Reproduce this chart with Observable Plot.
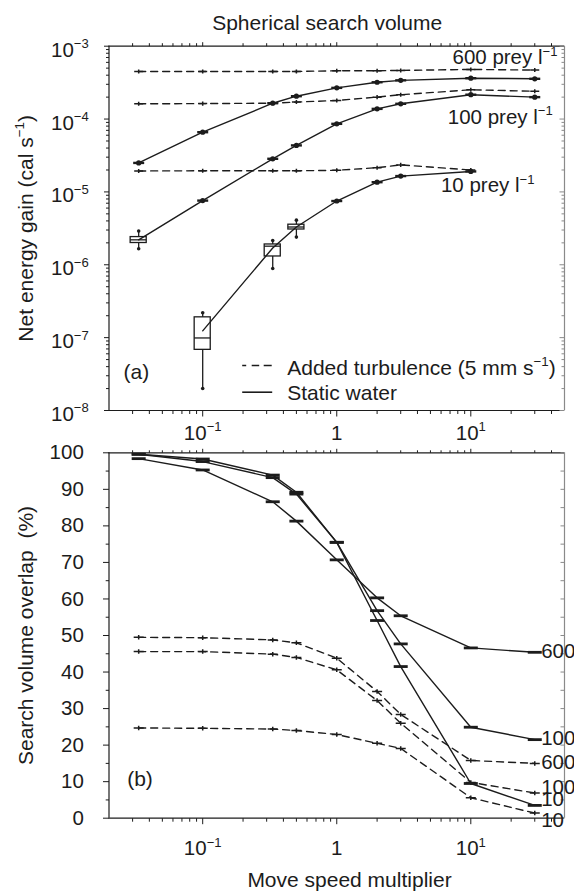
<!DOCTYPE html>
<html><head><meta charset="utf-8">
<script src="https://cdn.jsdelivr.net/npm/d3@7"></script>
<script src="https://cdn.jsdelivr.net/npm/@observablehq/plot@0.6"></script>
<style>
html,body{margin:0;padding:0;background:#fff;}
#chart{width:574px;height:891px;position:relative;overflow:hidden;background:#fff;}
#chart svg{display:block;overflow:visible;}
</style></head><body><div id="chart"></div>
<script>
// ---------- data ----------
const speeds = [0.0333, 0.1, 0.333, 0.5, 1, 2, 3, 10, 30];

// Panel (a): net energy gain (cal s^-1)
const gain600Static = [2.5e-5, 6.6e-5, 1.65e-4, 2.06e-4, 2.68e-4, 3.2e-4, 3.4e-4, 3.64e-4, 3.57e-4];
const gain600Turb   = [4.5e-4, 4.5e-4, 4.5e-4, 4.5e-4, 4.6e-4, 4.6e-4, 4.65e-4, 4.8e-4, 4.7e-4];
const gain100Static = [2.2e-6, 7.6e-6, 2.85e-5, 4.35e-5, 8.6e-5, 1.38e-4, 1.62e-4, 2.16e-4, 2.0e-4];
const gain100Turb   = [1.62e-4, 1.63e-4, 1.65e-4, 1.71e-4, 1.8e-4, 2.0e-4, 2.16e-4, 2.52e-4, 2.41e-4];
const gain10Static  = [null, 1.24e-7, 1.7e-6, 3.3e-6, 7.5e-6, 1.36e-5, 1.65e-5, 1.91e-5, null];
const gain10Turb    = [1.94e-5, 1.95e-5, 1.95e-5, 1.95e-5, 1.98e-5, 2.15e-5, 2.35e-5, 2.0e-5, null];

// box plots visible in panel (a)
const boxSeries = ["100 static", "10 static", "10 static", "10 static"];
const boxSpeed  = [0.0333, 0.1, 0.333, 0.5];
const boxLow    = [1.66e-6, 2.0e-8, 8.9e-7, 2.4e-6];
const boxQ1     = [1.99e-6, 6.8e-8, 1.3e-6, 3.05e-6];
const boxMedian = [2.2e-6, 9.9e-8, 1.8e-6, 3.3e-6];
const boxQ3     = [2.4e-6, 1.9e-7, 1.9e-6, 3.55e-6];
const boxHigh   = [2.9e-6, 2.2e-7, 2.15e-6, 4.1e-6];

// Panel (b): search volume overlap (%)
const overlap600Static = [98.4, 95.3, 86.6, 81.3, 70.7, 60.3, 55.4, 46.6, 45.4];
const overlap100Static = [99.6, 97.6, 93.2, 88.7, 75.5, 56.8, 47.7, 24.9, 21.5];
const overlap10Static  = [99.6, 98.3, 93.9, 89.2, 75.5, 54.1, 41.5, 9.5, 3.5];
const overlap600Turb   = [49.5, 49.4, 48.8, 48.0, 43.8, 34.7, 28.4, 15.8, 15.0];
const overlap100Turb   = [45.6, 45.6, 44.9, 44.0, 40.6, 32.2, 26.0, 9.8, 6.9];
const overlap10Turb    = [24.7, 24.6, 24.4, 24.0, 22.9, 20.5, 19.1, 5.6, 1.4];

// axes
const speedDomain = [0.02, 50];
const gainDomain = [1e-8, 1e-3];
const overlapDomain = [0, 100];
const speedTicks = [0.1, 1, 10];
const speedTickLabels = ["10^{−1}", "1", "10^{1}"];
const gainTicks = [1e-8, 1e-7, 1e-6, 1e-5, 1e-4, 1e-3];
const gainTickLabels = ["10^{−8}", "10^{−7}", "10^{−6}", "10^{−5}", "10^{−4}", "10^{−3}"];
const overlapTicks = [0, 10, 20, 30, 40, 50, 60, 70, 80, 90, 100];
const overlapMinor = [5, 15, 25, 35, 45, 55, 65, 75, 85, 95];

// text
const titleA = "Spherical search volume";
const yLabelA = "Net energy gain (cal s^{−1})";
const yLabelB = "Search volume overlap\u00a0 (%)";
const xLabel = "Move speed multiplier";
const legendTurb = "Added turbulence (5 mm s^{−1})";
const legendStatic = "Static water";

// ---------- helpers ----------
const minorSpeed = [];
for (const d of [0.01, 0.1, 1, 10]) for (let k = 2; k <= 9; k++) { const v = d * k; if (v > speedDomain[0] * 1.001 && v < speedDomain[1] * 0.999) minorSpeed.push(v); }
const minorGain = [];
for (const d of [1e-8, 1e-7, 1e-6, 1e-5, 1e-4]) for (let k = 2; k <= 9; k++) minorGain.push(d * k);

function rows(name, ys) { return speeds.map((x, i) => ({series: name, x, y: ys[i]})).filter(d => d.y != null); }
const staticA = [...rows("600 static", gain600Static), ...rows("100 static", gain100Static), ...rows("10 static", gain10Static)];
const turbA = [...rows("600 turb", gain600Turb), ...rows("100 turb", gain100Turb), ...rows("10 turb", gain10Turb)];
const boxes = boxSpeed.map((x, i) => ({series: boxSeries[i], x, lo: boxLow[i], q1: boxQ1[i], med: boxMedian[i], q3: boxQ3[i], hi: boxHigh[i]}));
const boxEnds = boxes.flatMap(b => [{x: b.x, y: b.lo}, {x: b.x, y: b.hi}]);
const hasBox = d => boxes.some(b => b.series === d.series && b.x === d.x);
const staticAMarks = staticA.filter(d => !hasBox(d));
const staticB = [...rows("600 static", overlap600Static), ...rows("100 static", overlap100Static), ...rows("10 static", overlap10Static)];
const turbB = [...rows("600 turb", overlap600Turb), ...rows("100 turb", overlap100Turb), ...rows("10 turb", overlap10Turb)];

const F = "'Liberation Sans', Arial, Helvetica, sans-serif";
const INK = "#1c1c1c";
const GREY = "#8a8a8a";
const BOXF = 1.148;
const sym = {
  hbar: {draw(c, s) { const r = Math.sqrt(s / Math.PI); c.moveTo(-r, 0); c.lineTo(r, 0); }},
  plus: {draw(c, s) { const r = Math.sqrt(s / Math.PI); c.moveTo(-r, 0); c.lineTo(r, 0); c.moveTo(0, -r * 0.45); c.lineTo(0, r * 0.45); }},
  left: {draw(c, s) { const r = Math.sqrt(s / Math.PI); c.moveTo(0, 0); c.lineTo(-r, 0); }},
  down: {draw(c, s) { const r = Math.sqrt(s / Math.PI); c.moveTo(0, 0); c.lineTo(0, r); }},
  up:   {draw(c, s) { const r = Math.sqrt(s / Math.PI); c.moveTo(0, 0); c.lineTo(0, -r); }}
};
const tickX = (vals, anchor, symbol, len, color = INK) => Plot.dot(vals, {x: d => d, frameAnchor: anchor, symbol, r: len, stroke: color, fill: "none", strokeWidth: 1});
const tickY = (vals, anchor, symbol, len, color = INK) => Plot.dot(vals, {y: d => d, frameAnchor: anchor, symbol, r: len, stroke: color, fill: "none", strokeWidth: 1});
const style = {fontFamily: F, fontSize: "20.5px", color: INK, background: "white", overflow: "visible"};

// ---------- panel (a) ----------
const plotA = Plot.plot({
  width: 574, height: 440,
  marginTop: 45.7, marginBottom: 30, marginLeft: 108.5, marginRight: 10,
  x: {type: "log", domain: speedDomain, axis: null},
  y: {type: "log", domain: gainDomain, axis: null},
  style,
  marks: [
    // frame
    Plot.ruleX([speedDomain[1]], {stroke: GREY, strokeWidth: 1.2}),
    Plot.ruleX([speedDomain[0]], {stroke: INK, strokeWidth: 1.2}),
    Plot.ruleY([gainDomain[0]], {stroke: INK, strokeWidth: 1.2}),
    Plot.ruleY([gainDomain[1]], {stroke: INK, strokeWidth: 1.2}),
    // ticks
    tickY(gainTicks, "left", sym.left, 5),
    tickY(minorGain, "left", sym.left, 3),
    tickY(gainTicks, "right", sym.left, 5, GREY),
    tickY(minorGain, "right", sym.left, 3, GREY),
    tickX(speedTicks, "bottom", sym.down, 6),
    tickX(minorSpeed, "bottom", sym.down, 3.5),
    tickX(speedTicks, "top", sym.up, 4),
    tickX(minorSpeed, "top", sym.up, 3),
    // tick labels
    Plot.text(gainTicks, {y: d => d, frameAnchor: "left", textAnchor: "end", dx: -20.2, dy: 4, text: (d, i) => gainTickLabels[i], fontSize: 20.5}),
    Plot.text(speedTicks, {x: d => d, frameAnchor: "bottom", textAnchor: "middle", lineAnchor: "top", dy: 14.7, text: (d, i) => speedTickLabels[i], fontSize: 20.5}),
    // boxes
    Plot.ruleX(boxes, {x: "x", y1: "lo", y2: "hi", stroke: INK, strokeWidth: 1.3}),
    Plot.dot(boxEnds, {x: "x", y: "y", r: 1.8, fill: INK}),
    Plot.rect(boxes, {x1: d => d.x / BOXF, x2: d => d.x * BOXF, y1: "q1", y2: "q3", fill: "white", stroke: INK, strokeWidth: 1.3}),
    Plot.ruleY(boxes, {y: "med", x1: d => d.x / BOXF, x2: d => d.x * BOXF, stroke: INK, strokeWidth: 1.3}),
    // lines
    Plot.line(turbA, {x: "x", y: "y", z: "series", stroke: INK, strokeWidth: 1.4, strokeDasharray: "7,5"}),
    Plot.line(staticA, {x: "x", y: "y", z: "series", stroke: INK, strokeWidth: 1.4}),
    Plot.dot(turbA, {x: "x", y: "y", symbol: sym.plus, r: 4.5, stroke: INK, fill: "none", strokeWidth: 1.5}),
    Plot.dot(staticAMarks, {x: "x", y: "y", symbol: sym.hbar, r: 5.5, stroke: INK, fill: "none", strokeWidth: 2.4}),
    Plot.dot(staticAMarks, {x: "x", y: "y", r: 2.6, fill: INK}),
    // series labels
    Plot.text([{x: speeds[8], y: gain600Turb[8]}], {x: "x", y: "y", text: () => "600 prey l^{−1}", textAnchor: "end", lineAnchor: "bottom", dx: 22.7, dy: -5.6, fontSize: 20.5}),
    Plot.text([{x: speeds[8], y: gain100Static[8]}], {x: "x", y: "y", text: () => "100 prey l^{−1}", textAnchor: "end", lineAnchor: "bottom", dx: 18, dy: 26.4, fontSize: 20.5}),
    Plot.text([{x: speeds[7], y: gain10Static[7]}], {x: "x", y: "y", text: () => "10 prey l^{−1}", textAnchor: "end", lineAnchor: "bottom", dx: 63.7, dy: 20.8, fontSize: 20.5}),
    // legend
    Plot.dot([0], {frameAnchor: "bottom-left", dx: 148.2, dy: -45, symbol: sym.hbar, r: 15, stroke: INK, fill: "none", strokeWidth: 1.4, strokeDasharray: "4,5.5,7.5,4.5,8"}),
    Plot.dot([0], {frameAnchor: "bottom-left", dx: 148.2, dy: -18.3, symbol: sym.hbar, r: 15, stroke: INK, fill: "none", strokeWidth: 1.6}),
    Plot.text([legendTurb], {frameAnchor: "bottom-left", dx: 178.2, dy: -36, textAnchor: "start", lineAnchor: "bottom", fontSize: 21}),
    Plot.text([legendStatic], {frameAnchor: "bottom-left", dx: 178.2, dy: -10.7, textAnchor: "start", lineAnchor: "bottom", fontSize: 21}),
    Plot.text(["(a)"], {frameAnchor: "bottom-left", dx: 14.5, dy: -31.2, textAnchor: "start", lineAnchor: "bottom", fontSize: 21}),
    // titles
    Plot.text([titleA], {frameAnchor: "top", dx: -9.6, dy: -16.2, textAnchor: "middle", lineAnchor: "bottom", fontSize: 21}),
    Plot.text([yLabelA], {frameAnchor: "left", rotate: -90, dx: -76.5, textAnchor: "middle", lineAnchor: "bottom", fontSize: 21})
  ]
});

// ---------- panel (b) ----------
const plotB = Plot.plot({
  width: 574, height: 451,
  marginTop: 12.3, marginBottom: 73.3, marginLeft: 108.5, marginRight: 10,
  x: {type: "log", domain: speedDomain, axis: null},
  y: {type: "linear", domain: overlapDomain, axis: null},
  style,
  marks: [
    Plot.ruleX([speedDomain[1]], {stroke: GREY, strokeWidth: 1.2}),
    Plot.ruleX([speedDomain[0]], {stroke: INK, strokeWidth: 1.2}),
    Plot.ruleY([overlapDomain[0]], {stroke: INK, strokeWidth: 1.2}),
    Plot.ruleY([overlapDomain[1]], {stroke: INK, strokeWidth: 1.2}),
    tickY(overlapTicks, "left", sym.left, 6),
    tickY(overlapMinor, "left", sym.left, 3.3),
    tickY(overlapTicks, "right", sym.left, 4, GREY),
    tickY(overlapMinor, "right", sym.left, 4, GREY),
    tickX(speedTicks, "bottom", sym.down, 6),
    tickX(minorSpeed, "bottom", sym.down, 3.5),
    tickX(speedTicks, "top", sym.up, 4),
    tickX(minorSpeed, "top", sym.up, 2.5),
    Plot.text(overlapTicks, {y: d => d, frameAnchor: "left", textAnchor: "end", dx: -25.2, text: d => String(d), fontSize: 20.5}),
    Plot.text(speedTicks, {x: d => d, frameAnchor: "bottom", textAnchor: "middle", lineAnchor: "top", dy: 22.7, text: (d, i) => speedTickLabels[i], fontSize: 20.5}),
    Plot.line(turbB, {x: "x", y: "y", z: "series", stroke: INK, strokeWidth: 1.4, strokeDasharray: "7,5"}),
    Plot.line(staticB, {x: "x", y: "y", z: "series", stroke: INK, strokeWidth: 1.4}),
    Plot.dot(turbB, {x: "x", y: "y", symbol: sym.plus, r: 5, stroke: INK, fill: "none", strokeWidth: 1.5}),
    Plot.dot(staticB, {x: "x", y: "y", symbol: sym.hbar, r: 7, stroke: INK, fill: "none", strokeWidth: 2.8}),
    // end labels
    Plot.text([{x: speeds[8], y: overlap600Static[8]}], {x: "x", y: "y", text: () => "600", textAnchor: "start", dx: 6.4, dy: -0.8, fontSize: 20.5}),
    Plot.text([{x: speeds[8], y: overlap100Static[8]}], {x: "x", y: "y", text: () => "100", textAnchor: "start", dx: 6.4, dy: -1.4, fontSize: 20.5}),
    Plot.text([{x: speeds[8], y: overlap600Turb[8]}], {x: "x", y: "y", text: () => "600", textAnchor: "start", dx: 6.4, dy: -1.2, fontSize: 20.5}),
    Plot.text([{x: speeds[8], y: overlap100Turb[8]}], {x: "x", y: "y", text: () => "100", textAnchor: "start", dx: 6.4, dy: -5.8, fontSize: 20.5}),
    Plot.text([{x: speeds[8], y: overlap10Static[8]}], {x: "x", y: "y", text: () => "10", textAnchor: "start", dx: 6.4, dy: -5.6, fontSize: 20.5}),
    Plot.text([{x: speeds[8], y: overlap10Turb[8]}], {x: "x", y: "y", text: () => "10", textAnchor: "start", dx: 6.4, dy: 7.4, fontSize: 20.5}),
    Plot.text(["(b)"], {frameAnchor: "bottom-left", dx: 18.2, dy: -31.9, textAnchor: "start", lineAnchor: "bottom", fontSize: 21}),
    Plot.text([xLabel], {frameAnchor: "bottom", dx: 12.75, dy: 68.3, textAnchor: "middle", lineAnchor: "bottom", fontSize: 21}),
    Plot.text([yLabelB], {frameAnchor: "left", rotate: -90, dx: -76.5, textAnchor: "middle", lineAnchor: "bottom", fontSize: 21})
  ]
});

const chart = document.getElementById("chart");
chart.append(plotA, plotB);

// superscripts: "^{...}" -> raised smaller tspan
function supify(root) {
  root.querySelectorAll("text").forEach(t => {
    const s = t.textContent;
    if (!s.includes("^{")) return;
    const fs = parseFloat(getComputedStyle(t).fontSize) || 20;
    const shift = fs * 0.42;
    while (t.firstChild) t.removeChild(t.firstChild);
    let down = 0;
    s.split(/(\^\{[^}]*\})/).forEach(p => {
      if (!p) return;
      const ts = document.createElementNS("http://www.w3.org/2000/svg", "tspan");
      if (p.startsWith("^{")) {
        ts.textContent = p.slice(2, -1);
        ts.setAttribute("font-size", (fs * 0.64).toFixed(1));
        ts.setAttribute("dy", (-shift).toFixed(1));
        down = shift;
      } else {
        ts.textContent = p;
        if (down) { ts.setAttribute("dy", down.toFixed(1)); down = 0; }
      }
      t.appendChild(ts);
    });
  });
}
supify(chart);
</script>
</body></html>
